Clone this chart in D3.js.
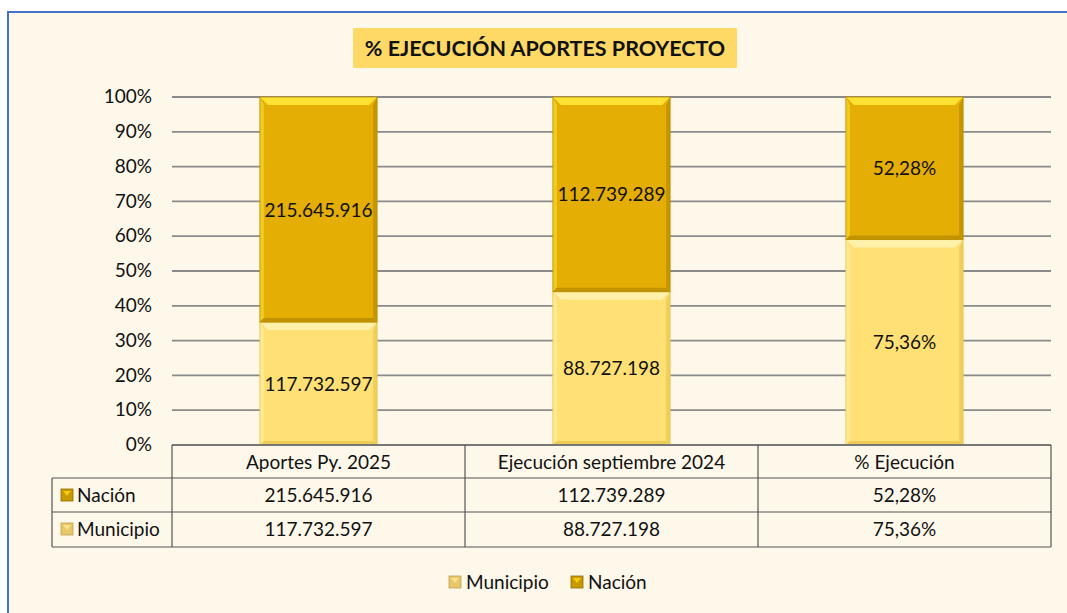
<!DOCTYPE html>
<html><head><meta charset="utf-8">
<script src="https://cdn.jsdelivr.net/npm/d3@7"></script>
<style>
html,body{margin:0;padding:0;background:#fff;}
svg{display:block;font-family:Lato,"Open Sans",sans-serif;}
</style></head><body>
<svg id="c" width="1067" height="613"></svg>
<script>
const categories = ["Aportes Py. 2025", "Ejecución septiembre 2024", "% Ejecución"];
const municipio = [117732597, 88727198, 75.36];
const nacion = [215645916, 112739289, 52.28];
const municipioLabels = ["117.732.597", "88.727.198", "75,36%"];
const nacionLabels = ["215.645.916", "112.739.289", "52,28%"];
const yTicks = [0,0.1,0.2,0.3,0.4,0.5,0.6,0.7,0.8,0.9,1];
const seriesNames = ["Municipio", "Nación"];

const colors = {Municipio:"#FFE074", "Nación":"#E5AE05"};
const light = {Municipio:"#FFF3B0", "Nación":"#FFE83A"};
const dark = {Municipio:"#E8C650", "Nación":"#B98C00"};
const FS = 19;

const svg = d3.select("#c");
svg.append("rect").attr("x",0).attr("y",0).attr("width",1067).attr("height",613).attr("fill","#fff");
svg.append("rect").attr("x",9).attr("y",12).attr("width",1070).attr("height",620).attr("fill","#FEF8EA");
svg.append("line").attr("x1",8).attr("x2",1067).attr("y1",12).attr("y2",12).attr("stroke","#4472C4").attr("stroke-width",2);
svg.append("line").attr("x1",8).attr("x2",8).attr("y1",11).attr("y2",613).attr("stroke","#4472C4").attr("stroke-width",2);

// title
svg.append("rect").attr("x",353).attr("y",28).attr("width",384).attr("height",40).attr("fill","#FFD966");
svg.append("text").attr("x",545).attr("y",56).attr("text-anchor","middle").attr("font-size",21.5).attr("font-weight","bold").attr("fill","#111").text("% EJECUCIÓN APORTES PROYECTO");

const x0 = 172, x1 = 1051;
const x = d3.scaleBand().domain(categories).range([x0,x1]).paddingInner(0.6).paddingOuter(0.3);
const y = d3.scaleLinear().domain([0,1]).range([445,97]);

// gridlines
svg.append("g").selectAll("line").data(yTicks.filter(d=>d>0)).join("line")
  .attr("x1",x0).attr("x2",x1).attr("y1",d=>y(d)).attr("y2",d=>y(d))
  .attr("stroke","#8a8a8a").attr("stroke-width",1.8);

// y axis labels
const yAxis = d3.axisLeft(y).tickValues(yTicks).tickFormat(d3.format(".0%")).tickSize(0).tickPadding(20);
const ya = svg.append("g").attr("transform",`translate(${x0},0)`).call(yAxis);
ya.select(".domain").remove();
ya.selectAll("text").attr("font-size",FS).attr("fill","#111").attr("font-family","Lato,sans-serif").attr("dy","0.3em");

// stacks
const rows = categories.map((c,i)=>{
  const t = municipio[i]+nacion[i];
  return {cat:c, Municipio:municipio[i]/t, "Nación":nacion[i]/t, i};
});
const stack = d3.stack().keys(seriesNames)(rows);

const b = 8;
function bevel(g, xL, w, yT, yB, key){
  g.append("rect").attr("x",xL).attr("y",yT).attr("width",w).attr("height",yB-yT).attr("fill",colors[key]);
  g.append("polygon").attr("points",`${xL},${yT} ${xL+w},${yT} ${xL+w-b},${yT+b} ${xL+b},${yT+b}`).attr("fill",light[key]).attr("opacity",0.9);
  g.append("polygon").attr("points",`${xL},${yT} ${xL+b*0.5},${yT+b} ${xL+b*0.5},${yB-b*0.5} ${xL},${yB}`).attr("fill",light[key]).attr("opacity",0.5);
  g.append("polygon").attr("points",`${xL+w},${yT} ${xL+w-b*0.5},${yT+b} ${xL+w-b*0.5},${yB-b*0.5} ${xL+w},${yB}`).attr("fill",dark[key]).attr("opacity",0.7);
  g.append("polygon").attr("points",`${xL},${yB} ${xL+w},${yB} ${xL+w-b*0.5},${yB-b*0.5} ${xL+b*0.5},${yB-b*0.5}`).attr("fill",dark[key]).attr("opacity",0.8);
  g.append("rect").attr("x",xL).attr("y",yT).attr("width",w).attr("height",yB-yT).attr("fill","none").attr("stroke",dark[key]).attr("stroke-width",0.8);
}
const barsG = svg.append("g");
stack.forEach(s=>{
  s.forEach(d=>{
    const g = barsG.append("g");
    bevel(g, x(d.data.cat), x.bandwidth(), y(d[1]), y(d[0]), s.key);
  });
});
stack.forEach(s=>{
  const labs = s.key==="Municipio"?municipioLabels:nacionLabels;
  barsG.selectAll(null).data(s).join("text")
    .attr("x",d=>x(d.data.cat)+x.bandwidth()/2)
    .attr("y",d=>(y(d[0])+y(d[1]))/2+7)
    .attr("text-anchor","middle").attr("font-size",FS).attr("fill","#111")
    .text((d,i)=>labs[i]);
});

// data table
const colX = [x0, x0+(x1-x0)/3, x0+2*(x1-x0)/3, x1];
const tg = svg.append("g").attr("stroke","#555").attr("stroke-width",1.2).attr("fill","none");
tg.append("line").attr("x1",x0).attr("x2",x1).attr("y1",445).attr("y2",445).attr("stroke","#777").attr("stroke-width",1.8);
[478,512,547].forEach(yy=>tg.append("line").attr("x1",52).attr("x2",x1).attr("y1",yy).attr("y2",yy));
colX.forEach(xx=>tg.append("line").attr("x1",xx).attr("x2",xx).attr("y1",445).attr("y2",547));
tg.append("line").attr("x1",52).attr("x2",52).attr("y1",478).attr("y2",547);

const tt = svg.append("g").attr("font-size",FS).attr("fill","#111");
categories.forEach((c,i)=>{
  const cx = (colX[i]+colX[i+1])/2;
  tt.append("text").attr("x",cx).attr("y",469).attr("text-anchor","middle").text(c);
  tt.append("text").attr("x",cx).attr("y",502).attr("text-anchor","middle").text(nacionLabels[i]);
  tt.append("text").attr("x",cx).attr("y",536).attr("text-anchor","middle").text(municipioLabels[i]);
});
function marker(g, mx, my, key){
  const s=12;
  g.append("rect").attr("x",mx).attr("y",my).attr("width",s).attr("height",s).attr("fill",key==="Nación"?"#C89A00":"#E6C76A");
  g.append("polygon").attr("points",`${mx+2},${my+2} ${mx+s-2},${my+2} ${mx+s/2},${my+s/2+1}`).attr("fill",key==="Nación"?"#F5CC10":"#FFE38A");
  g.append("rect").attr("x",mx).attr("y",my).attr("width",s).attr("height",s).attr("fill","none").attr("stroke",key==="Nación"?"#8E6D00":"#BFA050").attr("stroke-width",0.8);
}
marker(svg, 61, 489, "Nación");
tt.append("text").attr("x",77).attr("y",502).text("Nación");
marker(svg, 61, 523, "Municipio");
tt.append("text").attr("x",77).attr("y",536).text("Municipio");

// legend
const lg = svg.append("g").attr("font-size",FS).attr("fill","#111");
marker(lg, 449, 576, "Municipio");
lg.append("text").attr("x",466).attr("y",589).text("Municipio");
marker(lg, 571, 576, "Nación");
lg.append("text").attr("x",588).attr("y",589).text("Nación");
</script>
</body></html>
